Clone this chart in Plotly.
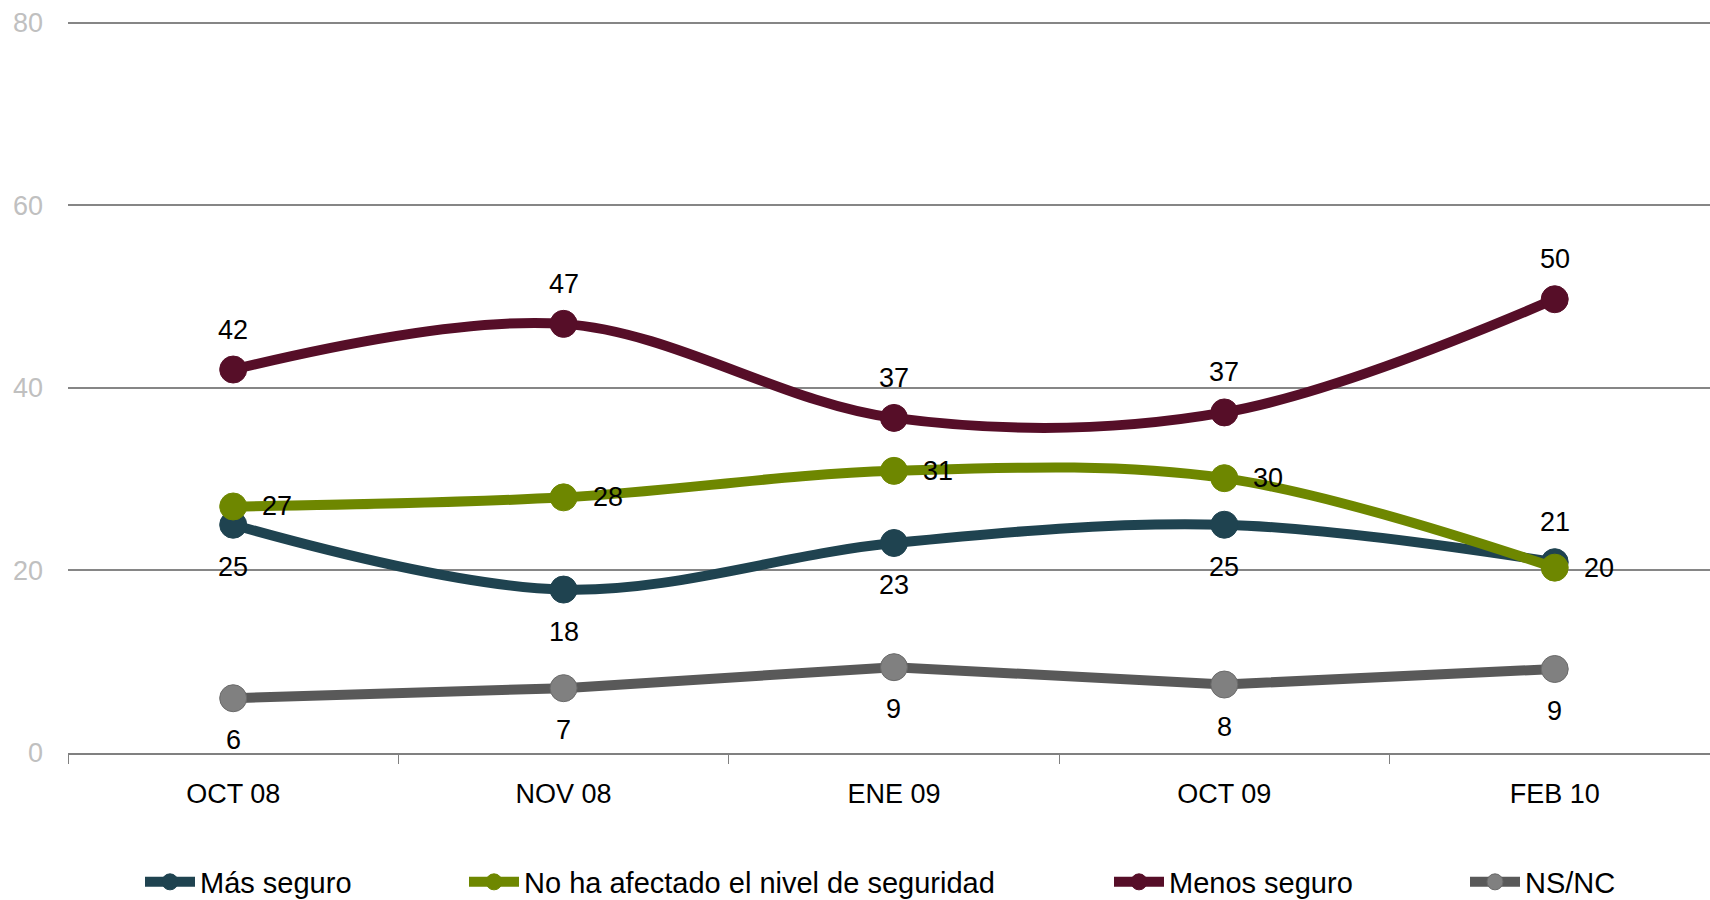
import plotly.graph_objects as go

categories = ["OCT 08", "NOV 08", "ENE 09", "OCT 09", "FEB 10"]

mas_seguro = [25.0, 17.9, 23.0, 25.0, 20.9]
mas_seguro_labels = ["25", "18", "23", "25", "21"]

no_afectado = [27.0, 28.0, 30.9, 30.1, 20.3]
no_afectado_labels = ["27", "28", "31", "30", "20"]

menos_seguro = [42.0, 47.0, 36.7, 37.3, 49.7]
menos_seguro_labels = ["42", "47", "37", "37", "50"]

nsnc = [6.0, 7.1, 9.4, 7.5, 9.2]
nsnc_labels = ["6", "7", "9", "8", "9"]

y_ticks = [0, 20, 40, 60, 80]

FONT = "Liberation Sans, Arial, sans-serif"

series = [
    dict(name="Más seguro", y=mas_seguro, labels=mas_seguro_labels,
         line="#1F4350", marker="#1F4350", mline="#1F4350", shape="spline",
         pos=["below", "below", "below", "below", "above"], legend="legend", lx=148),
    dict(name="No ha afectado el nivel de seguridad", y=no_afectado, labels=no_afectado_labels,
         line="#6E8700", marker="#6E8700", mline="#6E8700", shape="spline",
         pos=["right"] * 5, legend="legend2", lx=472),
    dict(name="Menos seguro", y=menos_seguro, labels=menos_seguro_labels,
         line="#560E28", marker="#560E28", mline="#560E28", shape="spline",
         pos=["above"] * 5, legend="legend3", lx=1117),
    dict(name="NS/NC", y=nsnc, labels=nsnc_labels,
         line="#595959", marker="#808080", mline="#6a6a6a", shape="linear",
         pos=["below"] * 5, legend="legend4", lx=1473),
]

offsets = {"above": (0, 40), "below": (0, -42), "right": (44, 0)}

fig = go.Figure()
annotations = []
legends = {}
for s in series:
    fig.add_trace(go.Scatter(
        x=categories, y=s["y"], name=s["name"], mode="lines+markers",
        line=dict(color=s["line"], width=10, shape=s["shape"], smoothing=1),
        marker=dict(size=27, color=s["marker"], line=dict(color=s["mline"], width=1)),
        legend=s["legend"], hoverinfo="skip",
    ))
    for c, v, t, p in zip(categories, s["y"], s["labels"], s["pos"]):
        dx, dy = offsets[p]
        annotations.append(dict(
            x=c, y=v, xref="x", yref="y", text=t, showarrow=False,
            xshift=dx, yshift=dy, xanchor="center", yanchor="middle",
            font=dict(family=FONT, size=27, color="#000000"),
        ))
    legends[s["legend"]] = dict(
        x=(s["lx"] - 8) / 1710, y=(900 - 882) / 900,
        xref="container", yref="container",
        xanchor="left", yanchor="middle", orientation="h",
        bgcolor="rgba(0,0,0,0)", itemclick=False, itemdoubleclick=False,
        font=dict(family=FONT, size=29, color="#000000"),
        itemwidth=50,
    )

fig.update_layout(
    width=1710, height=900,
    paper_bgcolor="white", plot_bgcolor="white",
    margin=dict(l=68, r=0, t=18, b=147, autoexpand=False),
    showlegend=True,
    annotations=annotations,
    font=dict(family=FONT),
    **legends,
)

fig.update_xaxes(
    type="category", range=[-0.5, 4.47], tickson="boundaries",
    ticks="outside", ticklen=9, tickcolor="#808080", tickwidth=1.3,
    showgrid=False, showline=True, linecolor="#808080", linewidth=1.5,
    tickfont=dict(family=FONT, size=27, color="#000000"),
    ticklabelstandoff=16, fixedrange=True, automargin=False,
)
fig.update_yaxes(
    range=[0, 80.5], tickvals=y_ticks, ticktext=[str(v) for v in y_ticks],
    showgrid=True, gridcolor="#868686", gridwidth=1.5,
    zeroline=False, showline=False, ticks="",
    tickfont=dict(family=FONT, size=27, color="#c0c0c0"),
    ticklabelstandoff=24, fixedrange=True, automargin=False,
)

fig.write_html(
    "out.html",
    config={"displayModeBar": False},
    post_script="document.body.style.margin='0';document.body.style.overflow='hidden';",
)
